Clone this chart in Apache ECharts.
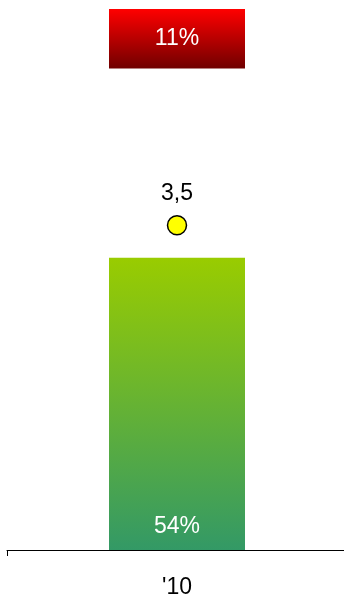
<!DOCTYPE html>
<html>
<head>
<meta charset="utf-8">
<script src="https://cdn.jsdelivr.net/npm/echarts@6/dist/echarts.min.js"></script>
<style>
  html, body { margin: 0; padding: 0; background: #fff; overflow: hidden; }
  #chart { width: 344px; height: 600px; }
</style>
</head>
<body>
<div id="chart"></div>
<script>
// Single-year breakdown: share (stacked %) plus an index value on a second scale
const categories = ["'10"];
const shareLow = [54];      // green part, %
const shareGap = [35];      // unlabelled middle part, %
const shareHigh = [11];     // red part, %
const indexValue = [3.5];   // yellow marker, right scale

const chart = echarts.init(document.getElementById('chart'));
const FONT = 'Liberation Sans, Arial, sans-serif';

const pctLabel = (pos, dist) => ({
  show: true,
  position: pos,
  distance: dist,
  color: '#fff',
  fontSize: 23,
  fontFamily: FONT,
  formatter: p => p.value + '%'
});

chart.setOption({
  animation: false,
  grid: { left: 7, right: -3, top: 9, bottom: 50, outerBoundsMode: 'none' },
  xAxis: {
    type: 'category',
    data: categories,
    axisLine: { lineStyle: { color: '#000', width: 1 } },
    axisTick: { show: true, length: 6, lineStyle: { color: '#000' } },
    axisLabel: { color: '#000', fontSize: 23, margin: 26, fontFamily: FONT }
  },
  yAxis: [
    { type: 'value', min: 0, max: 100, show: false },
    { type: 'value', min: 0, max: 5.83, show: false }
  ],
  series: [
    {
      type: 'bar', stack: 'share', barWidth: '40%', data: shareLow,
      itemStyle: {
        color: new echarts.graphic.LinearGradient(0, 0, 0, 1, [
          { offset: 0, color: '#99cc00' },
          { offset: 1, color: '#339966' }
        ])
      },
      label: pctLabel('insideBottom', 12)
    },
    {
      type: 'bar', stack: 'share', data: shareGap,
      itemStyle: { color: 'rgba(0,0,0,0)' },
      label: { show: false }
    },
    {
      type: 'bar', stack: 'share', data: shareHigh,
      itemStyle: {
        color: new echarts.graphic.LinearGradient(0, 0, 0, 1, [
          { offset: 0, color: '#ff0000' },
          { offset: 1, color: '#700000' }
        ])
      },
      label: pctLabel('inside', 0)
    },
    {
      type: 'scatter', yAxisIndex: 1, data: indexValue,
      symbol: 'circle', symbolSize: 19,
      itemStyle: { color: '#ffff00', borderColor: '#000', borderWidth: 1.5, opacity: 1 },
      label: {
        show: true, position: 'top', distance: 10, color: '#000', fontSize: 23,
        fontFamily: FONT,
        formatter: p => String(p.value).replace('.', ',')
      },
      z: 5
    }
  ]
});
</script>
</body>
</html>
